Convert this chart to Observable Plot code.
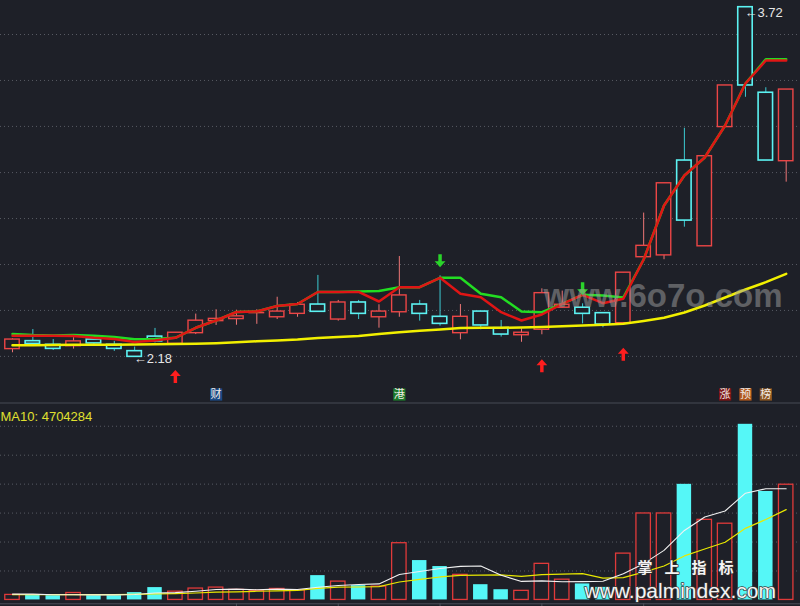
<!DOCTYPE html>
<html><head><meta charset="utf-8">
<script src="https://cdn.jsdelivr.net/npm/d3@7"></script>
<script src="https://cdn.jsdelivr.net/npm/@observablehq/plot@0.6"></script>
<style>
html,body{margin:0;padding:0;background:#1e2028;width:800px;height:606px;overflow:hidden}
#chart svg{display:block}
</style></head><body><div id="chart"></div>
<script>
// ---- data ----
const openP = [2.217, 2.252, 2.236, 2.230, 2.259, 2.236, 2.208, 2.272, 2.240, 2.287,
  2.340, 2.349, 2.375, 2.357, 2.372, 2.413, 2.347, 2.422, 2.357, 2.379,
  2.413, 2.359, 2.287, 2.382, 2.309, 2.278, 2.302, 2.399, 2.399, 2.375,
  2.331, 2.621, 2.629, 3.046, 2.669, 3.193, 3.720, 3.344, 3.043];
const highP = [2.262, 2.303, 2.259, 2.267, 2.262, 2.251, 2.226, 2.308, 2.289, 2.371,
  2.390, 2.388, 2.390, 2.445, 2.422, 2.541, 2.431, 2.431, 2.412, 2.624,
  2.431, 2.539, 2.413, 2.382, 2.343, 2.306, 2.482, 2.472, 2.416, 2.375,
  2.553, 2.815, 2.946, 3.188, 3.065, 3.376, 3.720, 3.366, 3.358];
const lowP = [2.201, 2.233, 2.211, 2.217, 2.231, 2.207, 2.180, 2.244, 2.233, 2.281,
  2.321, 2.322, 2.326, 2.347, 2.357, 2.380, 2.340, 2.347, 2.309, 2.357,
  2.340, 2.318, 2.258, 2.302, 2.270, 2.247, 2.280, 2.398, 2.328, 2.311,
  2.331, 2.620, 2.610, 2.753, 2.669, 3.193, 3.324, 3.046, 2.951];
const closeP = [2.259, 2.240, 2.218, 2.251, 2.242, 2.218, 2.183, 2.251, 2.289, 2.342,
  2.350, 2.361, 2.376, 2.382, 2.412, 2.381, 2.422, 2.372, 2.382, 2.453,
  2.372, 2.328, 2.359, 2.321, 2.281, 2.289, 2.463, 2.412, 2.372, 2.325,
  2.553, 2.671, 2.946, 2.782, 3.065, 3.376, 3.376, 3.046, 3.358];
// volume in millions of shares
const volume = [0.26, 0.26, 0.22, 0.36, 0.22, 0.22, 0.38, 0.64, 0.43, 0.59,
  0.64, 0.52, 0.47, 0.57, 0.50, 1.26, 0.95, 0.74, 0.69, 2.94,
  2.04, 1.73, 1.30, 0.79, 0.53, 0.47, 1.87, 1.05, 0.83, 0.65,
  2.40, 4.48, 4.48, 5.99, 4.15, 3.95, 9.10, 5.62, 5.97];
const volMA5 = [0.30, 0.30, 0.27, 0.27, 0.26, 0.26, 0.28, 0.36, 0.38, 0.45,
  0.54, 0.56, 0.53, 0.56, 0.54, 0.66, 0.75, 0.80, 0.83, 1.32,
  1.47, 1.63, 1.74, 1.76, 1.28, 0.96, 0.99, 0.94, 0.95, 0.97,
  1.36, 1.88, 2.57, 3.60, 4.30, 4.61, 5.53, 5.76, 5.76];
const volMA10 = [0.28, 0.28, 0.28, 0.28, 0.28, 0.28, 0.29, 0.31, 0.33, 0.36,
  0.40, 0.42, 0.45, 0.47, 0.50, 0.60, 0.66, 0.67, 0.69, 0.93,
  1.07, 1.19, 1.27, 1.29, 1.30, 1.22, 1.31, 1.34, 1.36, 1.13,
  1.16, 1.44, 1.76, 2.28, 2.64, 2.99, 3.71, 4.17, 4.68];
const lineRed = [2.2755, 2.2755, 2.2755, 2.2746, 2.2667, 2.2614, 2.2483, 2.2549, 2.2667, 2.3107,
  2.3428, 2.3802, 2.3823, 2.4065, 2.4153, 2.4681, 2.4681, 2.4681, 2.4263, 2.4892,
  2.4892, 2.5305, 2.4602, 2.4452, 2.3793, 2.3428, 2.3692, 2.4162, 2.4558, 2.4188,
  2.4382, 2.6109, 2.8483, 2.9802, 3.0593, 3.2000, 3.3846, 3.4857, 3.4857];
const lineGreen = [2.2834, 2.2790, 2.2768, 2.2790, 2.2755, 2.2702, 2.2606, 2.2614, 2.2667, 2.3107,
  2.3428, 2.3802, 2.3823, 2.4065, 2.4153, 2.4681, 2.4681, 2.4703, 2.4725, 2.4892,
  2.4892, 2.5305, 2.5305, 2.4602, 2.4452, 2.3823, 2.3793, 2.4162, 2.4558, 2.4527,
  2.4439, 2.6109, 2.8483, 2.9802, 3.0593, 3.2000, 3.3846, 3.4915, 3.4915];
const lineYellow = [2.2342, 2.2342, 2.2351, 2.2360, 2.2360, 2.2364, 2.2373, 2.2382, 2.2391, 2.2404,
  2.2430, 2.2470, 2.2514, 2.2549, 2.2593, 2.2659, 2.2702, 2.2746, 2.2834, 2.2913,
  2.2975, 2.3032, 2.3098, 2.3107, 2.3111, 2.3120, 2.3142, 2.3173, 2.3208, 2.3239,
  2.3283, 2.3406, 2.3547, 2.3780, 2.4087, 2.4439, 2.4791, 2.5112, 2.5481];
const buySignals = [8, 26, 30];
const sellSignals = [21, 28];
const tagIndex = [10, 19, 35, 36, 37];
const tagText = ["财", "港", "涨", "预", "榜"];
const tagColor = ["#1b4a86", "#1c7a2a", "#7e1515", "#b0581c", "#8c5620"];
const priceGrid = [2.185, 2.387, 2.589, 2.791, 2.993, 3.196, 3.398, 3.600];
const priceDomain = [1.9823, 3.7495];
const volGrid = [1.5, 3, 4.5, 6, 7.5, 9];
const volDomain = [-0.2, 10.23];
const dateTicks = [11, 16, 21, 26, 31];
const xDomain = [-0.589, 38.703];
const lowLabel = {i: 6, text: "←2.18"};
const highLabel = {i: 36, text: "←3.72"};
const ma10Text = "MA10: 4704284";
const siteMark = "www.6o7o.com";
const brandCN = "掌上指标";
const brandURL = "www.palmindex.com";

// ---- build ----
const BG = "#1e2028";
const candles = openP.map((o, i) => ({
  i, o, h: highP[i], l: lowP[i], c: closeP[i], v: volume[i],
  up: closeP[i] >= o,
  r: lineRed[i], g: lineGreen[i], y: lineYellow[i],
  m5: volMA5[i], m10: volMA10[i]
}));
const tags = tagIndex.map((i, k) => ({i, t: tagText[k], bg: tagColor[k]}));

const arrowUp = {draw(ctx, size) {
  const k = Math.sqrt(size / Math.PI) / 6;
  ctx.moveTo(0, -6 * k); ctx.lineTo(5 * k, -0.4 * k); ctx.lineTo(1.6 * k, -0.4 * k);
  ctx.lineTo(1.6 * k, 6 * k); ctx.lineTo(-1.6 * k, 6 * k); ctx.lineTo(-1.6 * k, -0.4 * k);
  ctx.lineTo(-5 * k, -0.4 * k); ctx.closePath();
}};
const arrowDown = {draw(ctx, size) {
  const k = Math.sqrt(size / Math.PI) / 6;
  ctx.moveTo(0, 6 * k); ctx.lineTo(5 * k, 0.4 * k); ctx.lineTo(1.6 * k, 0.4 * k);
  ctx.lineTo(1.6 * k, -6 * k); ctx.lineTo(-1.6 * k, -6 * k); ctx.lineTo(-1.6 * k, 0.4 * k);
  ctx.lineTo(-5 * k, 0.4 * k); ctx.closePath();
}};

const RED = "#ec4646", RED_WICK = "#ee7676", CYAN = "#5cf2f2", CYAN_WICK = "#3ccad2";
const hw = 0.355;

const pricePlot = Plot.plot({
  width: 800, height: 402, margin: 0,
  style: `background:${BG};overflow:hidden;display:block`,
  x: {domain: xDomain, axis: null},
  y: {domain: priceDomain, axis: null},
  color: {type: "identity"},
  marks: [
    Plot.ruleY(priceGrid, {stroke: "#575a63", strokeDasharray: "1,3"}),
    Plot.ruleX(candles, {filter: d => d.up, x: "i", y1: "l", y2: "h", stroke: RED_WICK, strokeWidth: 1}),
    Plot.ruleX(candles, {filter: d => !d.up, x: "i", y1: "l", y2: "h", stroke: CYAN_WICK, strokeWidth: 1}),
    Plot.rect(candles, {filter: d => d.up, x1: d => d.i - hw, x2: d => d.i + hw, y1: "o", y2: "c", fill: BG, stroke: RED, strokeWidth: 1.4}),
    Plot.rect(candles, {filter: d => !d.up, x1: d => d.i - hw, x2: d => d.i + hw, y1: "o", y2: "c", fill: BG, stroke: CYAN, strokeWidth: 1.6}),
    Plot.line(candles, {x: "i", y: "y", stroke: "#f2f000", strokeWidth: 2.5}),
    Plot.line(candles, {x: "i", y: "g", stroke: "#22dd22", strokeWidth: 2.5}),
    Plot.line(candles, {x: "i", y: "r", stroke: "#e01515", strokeWidth: 2.5}),
    Plot.dot(buySignals, {x: d => d, y: d => lowP[d], dy: 31, r: 6.5, symbol: arrowUp, fill: "#ff1e1e", stroke: null}),
    Plot.dot(sellSignals, {x: d => d, y: d => highP[d], dy: -15, r: 6.5, symbol: arrowDown, fill: "#2ad42a", stroke: null}),
    Plot.text([lowLabel], {x: "i", y: d => lowP[d.i], text: "text", textAnchor: "start", dx: -1, dy: 1, fill: "#e6e6e6", fontSize: 13, fontFamily: "Liberation Sans, Arial, sans-serif"}),
    Plot.text([highLabel], {x: "i", y: d => highP[d.i], text: "text", textAnchor: "start", dx: -1, dy: 6, fill: "#e6e6e6", fontSize: 13, fontFamily: "Liberation Sans, Arial, sans-serif"}),
    Plot.dot(tags, {x: "i", y: () => priceDomain[0], dy: -8, r: 6.9, symbol: "square", fill: "bg", stroke: null}),
    Plot.text(tags, {x: "i", y: () => priceDomain[0], dy: -8, text: "t", fill: "#f3ece6", fontSize: 11, fontFamily: "Noto Sans CJK SC, sans-serif"}),
    Plot.text([siteMark], {text: d => d, frameAnchor: "top-left", dx: 543, dy: 283, textAnchor: "start", fontSize: 33, fontWeight: "bold", fill: "#a0a0a0", fillOpacity: 0.5, fontFamily: "Liberation Sans, Arial, sans-serif"})
  ]
});

const volPlot = Plot.plot({
  width: 800, height: 204, marginTop: 0, marginBottom: 2.7, marginLeft: 0, marginRight: 0,
  style: `background:${BG};overflow:hidden;display:block;color:#4c4f59`,
  x: {domain: xDomain, ticks: dateTicks, tickSize: 3, tickFormat: () => "", line: true, label: null},
  y: {domain: volDomain, axis: null},
  marks: [
    Plot.ruleY(volGrid, {stroke: "#575a63", strokeDasharray: "1,3"}),
    Plot.ruleY([volDomain[1]], {stroke: "#474a54", dy: 0.5}),
    Plot.rect(candles, {filter: d => !d.up, x1: d => d.i - hw, x2: d => d.i + hw, y1: 0, y2: "v", fill: "#55f7f7"}),
    Plot.rect(candles, {filter: d => d.up, x1: d => d.i - hw, x2: d => d.i + hw, y1: 0, y2: "v", fill: BG, stroke: "#e03a3a", strokeWidth: 1.3}),
    Plot.line(candles, {x: "i", y: "m10", stroke: "#e8e800", strokeWidth: 1.2}),
    Plot.line(candles, {x: "i", y: "m5", stroke: "#f2f2f2", strokeWidth: 1.1}),
    Plot.text([ma10Text], {text: d => d, frameAnchor: "top-left", dx: 0, dy: 9, textAnchor: "start", fill: "#e0e030", fontSize: 13, fontFamily: "Liberation Sans, Arial, sans-serif"}),
    Plot.text([brandCN], {text: d => d, frameAnchor: "top-left", dx: 637, dy: 160, textAnchor: "start", fill: "#f4f4f4", stroke: "#2a2a2a", strokeWidth: 1.5, paintOrder: "stroke", fontSize: 15, fontWeight: "bold", fontFamily: "Noto Sans CJK SC, sans-serif"}),
    Plot.text([brandURL], {text: d => d, frameAnchor: "top-left", dx: 584, dy: 181, textAnchor: "start", fill: "#f4f4f4", stroke: "#3a3a3a", strokeWidth: 1.5, paintOrder: "stroke", fontSize: 21, fontFamily: "Liberation Sans, Arial, sans-serif"})
  ]
});
d3.select(volPlot).selectAll("text").filter(function() { return this.textContent === brandCN; }).attr("letter-spacing", "12px");

const host = document.getElementById("chart");
host.appendChild(pricePlot);
host.appendChild(volPlot);
</script></body></html>
